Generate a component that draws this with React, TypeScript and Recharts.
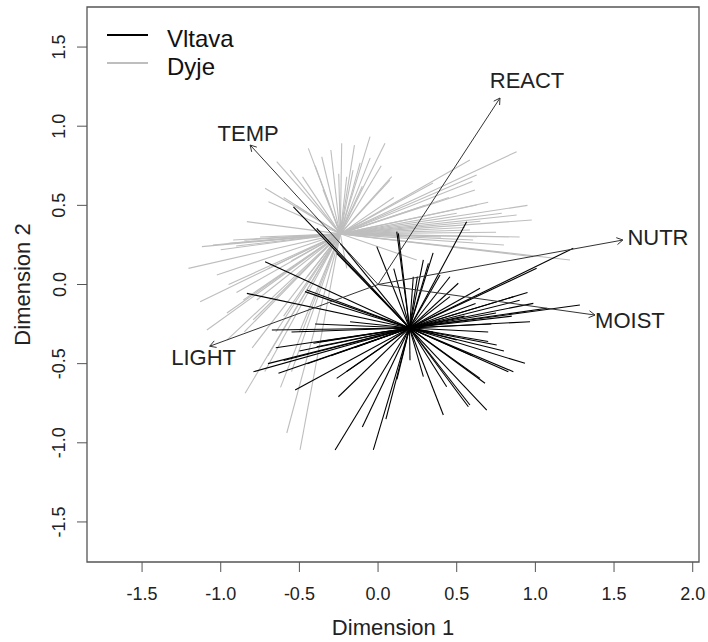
import React from 'react';
import { ScatterChart, Scatter, XAxis, YAxis, ReferenceLine, ReferenceArea } from 'recharts';

const FONT = '"Liberation Sans", Arial, sans-serif';
const TEXT = '#222';

const X_DOMAIN = [-1.85, 2.04];
const Y_DOMAIN = [-1.753, 1.753];
const X_TICKS = [-1.5, -1, -0.5, 0, 0.5, 1, 1.5, 2];
const Y_TICKS = [-1.5, -1, -0.5, 0, 0.5, 1, 1.5];

// group centroids
const vltavaCentre = { x: 0.2, y: -0.275 };
const dyjeCentre = { x: -0.24, y: 0.32 };

// site scores, Vltava
const vltavaX = [
  0.563, 0.119, -0.008, 0.288, 0.32, 0.457, 0.648, 0.86, 0.987, 1.283, 0.966, 1.241, 1.008,
  0.754, 0.934, 0.86, 0.68, 0.691, 0.584, 0.415, 0.436, 0.203, -0.03, -0.273, -0.263, -0.527,
  -0.792, -0.633, -0.252, -0.411, -0.675, -0.834, -0.718, -0.453, -0.538, -0.39, 0.828, 0.648,
  0.574, -0.39, -0.368, -0.178, 1.072, -0.305, -0.263, -0.241, 0.129, 0.394, 0.224, 0.51,
  0.457, -0.464, 0.7, 0.9, 0.6, -0.5, -0.6, -0.45, 0.288, 0.35, 0.72,
  0.75, 0.85, 0.62, 0.95, 0.55, 0.7, 0.8, 0.5, -0.55, -0.65, -0.7, -0.4, -0.3, -0.2,
  -0.15, 0.05, 0.12, -0.1, 0.25, 0.1, 0.35,
];
const vltavaY = [
  0.397, 0.334, 0.239, 0.155, 0.134, 0.049, -0.024, -0.077, -0.119, -0.13, -0.235, 0.229, 0.102,
  -0.382, -0.498, -0.551, -0.624, -0.793, -0.761, -0.824, -0.646, -0.478, -1.045, -1.045, -0.593, -0.666,
  -0.551, -0.561, -0.709, -0.371, -0.287, -0.056, 0.144, -0.035, 0.491, 0.355, -0.551, -0.593,
  -0.772, -0.393, -0.361, -0.235, -0.15, -0.119, 0.197, 0.26, 0.323, 0.06, 0.049, 0.008,
  -0.077, -0.045, -0.36, -0.1, -0.45, -0.42, -0.48, -0.5, -0.582, -0.3, -0.25,
  -0.18, -0.2, -0.12, -0.05, -0.2, -0.3, -0.42, -0.35, -0.3, -0.4, -0.5, -0.25, -0.45, -0.55,
  -0.4, -0.85, -0.6, -0.9, 0.05, 0.1, 0.2,
];

// site scores, Dyje
const dyjeX = [
  -0.051, 0.044, -0.231, -0.443, -0.358, -0.159, -0.199, -0.114, 0.087, -0.644, -0.559, -0.718,
  -0.697, -0.834, -1.12, -1.205, -1.025, -0.921, -0.902, 0.881, 0.627, 0.584, 0.616, 0.627,
  0.977, 0.881, 0.786, 0.584, 0.627, 1.22, 0.985, 0.246, 0.076, 0.349, 0.604, -0.199, -0.845,
  -0.58, -0.496, -1.088, -1.131, -0.961, -0.771, -0.961, -0.856, -0.794, -1.05, -0.95, -0.85,
  -1.0, -0.75, -0.3, -0.05, 0.02, -0.48, -0.4, -0.1, -0.6, 0.1, 0.7, 0.5, 0.75, 0.45, 0.9,
  0.55, 0.65, -0.7, -0.65, -0.6, -0.9, -0.55,
  -0.8, -0.72, -0.85, -0.62, -0.5, -0.95, -0.7, -0.55, -0.45, -0.25, -0.15, -0.52, -0.35,
  0.4, 0.8, 0.3, 0.6, 0.95,
];
const dyjeY = [
  0.934, 0.892, 0.892, 0.86, 0.807, 0.723, 0.681, 0.768, 0.681, 0.776, 0.723, 0.608,
  0.523, 0.397, 0.239, 0.102, 0.06, 0.281, 0.243, 0.839, 0.692, 0.786, 0.597, 0.502,
  0.407, 0.439, 0.45, 0.344, 0.302, 0.155, 0.176, 0.155, 0.66, 0.641, 0.281, 0.102, -0.687,
  -0.938, -1.045, -0.287, -0.109, -0.18, -0.098, -0.351, -0.098, -0.224, 0.25, 0.26, 0.28,
  0.22, 0.3, 0.85, 0.8, 0.75, 0.68, 0.75, 0.62, 0.55, 0.55, 0.52, 0.45, 0.33, 0.55, 0.3,
  0.36, 0.4, -0.45, -0.3, -0.2, -0.05, -0.55,
  -0.4, -0.55, -0.3, -0.65, -0.3, 0.0, 0.1, 0.15, 0.05, 0.7, 0.88, 0.5, 0.6,
  0.3, 0.25, 0.5, 0.65, 0.5,
];

// environmental vectors
const envNames = ['TEMP', 'REACT', 'NUTR', 'MOIST', 'LIGHT'];
const envX = [-0.813, 0.775, 1.556, 1.379, -1.07];
const envY = [0.881, 1.178, 0.281, -0.193, -0.39];
const envLabelX = [-0.826, 0.947, 1.779, 1.601, -1.109];
const envLabelY = [0.957, 1.292, 0.297, -0.224, -0.458];

const legendNames = ['Vltava', 'Dyje'];
const legendColors = ['#000', '#bebebe'];

const labelData = envNames.map((name, i) => ({ x: envLabelX[i], y: envLabelY[i], name }));

const Arrow = (p: any) => {
  const ang = Math.atan2(p.y2 - p.y1, p.x2 - p.x1);
  const len = 7;
  const a1 = ang + Math.PI - Math.PI / 6;
  const a2 = ang + Math.PI + Math.PI / 6;
  return (
    <g stroke="#333" strokeWidth={1} fill="none">
      <line x1={p.x1} y1={p.y1} x2={p.x2} y2={p.y2} />
      <line x1={p.x2} y1={p.y2} x2={p.x2 + len * Math.cos(a1)} y2={p.y2 + len * Math.sin(a1)} />
      <line x1={p.x2} y1={p.y2} x2={p.x2 + len * Math.cos(a2)} y2={p.y2 + len * Math.sin(a2)} />
    </g>
  );
};

const XTick = (p: any) => (
  <text x={p.x} y={p.y + 26} textAnchor="middle" fontSize={18} fill={TEXT} fontFamily={FONT}>
    {Number(p.payload.value).toFixed(1)}
  </text>
);

const YTick = (p: any) => {
  const bx = p.x - 9.5;
  return (
    <text
      x={bx}
      y={p.y}
      textAnchor="middle"
      fontSize={18}
      fill={TEXT}
      fontFamily={FONT}
      transform={`rotate(-90, ${bx}, ${p.y})`}
    >
      {Number(p.payload.value).toFixed(1)}
    </text>
  );
};

const EnvLabel = (p: any) => (
  <text
    x={p.cx}
    y={p.cy + 8}
    textAnchor="middle"
    fontSize={22}
    fill={TEXT}
    fontFamily={FONT}
  >
    {p.payload.name}
  </text>
);

export default function App() {
  return (
    <div style={{ position: 'absolute', left: 0, top: 0, width: 708, height: 642, background: '#fff' }}>
      <ScatterChart width={708} height={642} margin={{ top: 7, right: 9, bottom: 0, left: 0 }}>
        <XAxis
          type="number"
          dataKey="x"
          domain={X_DOMAIN}
          ticks={X_TICKS}
          allowDataOverflow
          height={80}
          axisLine={false}
          tickSize={10}
          tickLine={{ stroke: '#555' }}
          tick={<XTick />}
          label={(props: any) => {
            const vb = props.viewBox;
            return (
              <text x={vb.x + vb.width / 2} y={vb.y + 73} textAnchor="middle" fontSize={22} fill={TEXT} fontFamily={FONT}>
                Dimension 1
              </text>
            );
          }}
        />
        <YAxis
          type="number"
          dataKey="y"
          domain={Y_DOMAIN}
          ticks={Y_TICKS}
          allowDataOverflow
          width={87}
          axisLine={false}
          tickSize={10}
          tickLine={{ stroke: '#555' }}
          tick={<YTick />}
          label={(props: any) => {
            const vb = props.viewBox;
            const cy = vb.y + vb.height / 2;
            return (
              <text x={30} y={cy} textAnchor="middle" fontSize={22} fill={TEXT} fontFamily={FONT} transform={`rotate(-90, 30, ${cy})`}>
                Dimension 2
              </text>
            );
          }}
        />
        {dyjeX.map((x, i) => (
          <ReferenceLine
            key={'d' + i}
            segment={[dyjeCentre, { x, y: dyjeY[i] }]}
            stroke="#bebebe"
            strokeWidth={1.1}
            ifOverflow="visible"
          />
        ))}
        {vltavaX.map((x, i) => (
          <ReferenceLine
            key={'v' + i}
            segment={[vltavaCentre, { x, y: vltavaY[i] }]}
            stroke="#000"
            strokeWidth={1.1}
            ifOverflow="visible"
          />
        ))}
        {envX.map((x, i) => (
          <ReferenceLine
            key={'e' + i}
            segment={[{ x: 0, y: 0 }, { x, y: envY[i] }]}
            ifOverflow="visible"
            shape={(p: any) => <Arrow {...p} />}
          />
        ))}
        <ReferenceArea
          x1={X_DOMAIN[0]}
          x2={X_DOMAIN[1]}
          y1={Y_DOMAIN[0]}
          y2={Y_DOMAIN[1]}
          fill="none"
          fillOpacity={0}
          stroke="#555"
          strokeWidth={1.3}
          ifOverflow="visible"
        />
        <Scatter data={labelData} shape={<EnvLabel />} isAnimationActive={false} />
      </ScatterChart>
      <svg width={260} height={90} style={{ position: 'absolute', left: 0, top: 0, pointerEvents: 'none' }}>
        {legendNames.map((name, i) => (
          <g key={name}>
            <line x1={107} x2={148} y1={35 + i * 28} y2={35 + i * 28} stroke={legendColors[i]} strokeWidth={2} />
            <text x={167} y={47 + i * 28} fontSize={24} fill="#111" fontFamily={FONT}>
              {name}
            </text>
          </g>
        ))}
      </svg>
    </div>
  );
}
